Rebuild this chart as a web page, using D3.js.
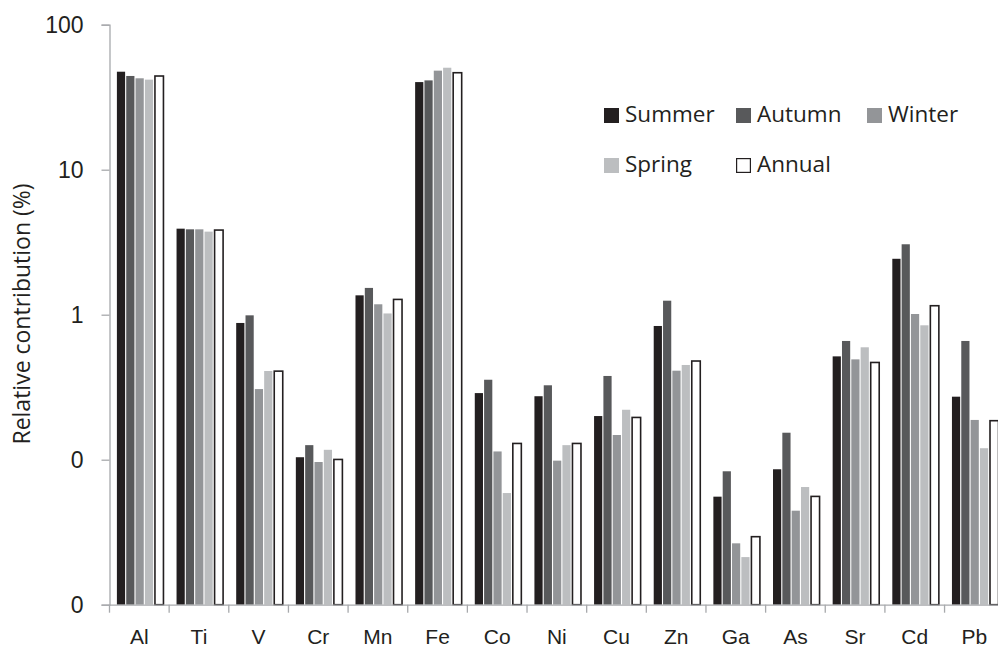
<!DOCTYPE html>
<html>
<head>
<meta charset="utf-8">
<script src="https://cdn.jsdelivr.net/npm/d3@7/dist/d3.min.js"></script>
<style>
  html, body { margin: 0; padding: 0; background: #fff; }
  svg { display: block; font-family: "Open Sans", "Noto Sans", sans-serif; }
</style>
</head>
<body>
<svg id="chart" width="998" height="648"></svg>
<script>
// Elements on the x axis
const elements = ["Al", "Ti", "V", "Cr", "Mn", "Fe", "Co", "Ni", "Cu", "Zn", "Ga", "As", "Sr", "Cd", "Pb"];

// Seasonal series
const seasons = ["Summer", "Autumn", "Winter", "Spring", "Annual"];

// Relative contribution (%) per element, one array per season
const summer = [47.4, 3.92, 0.877, 0.104, 1.36, 40.2, 0.288, 0.274, 0.200, 0.836, 0.0556, 0.0859, 0.516, 2.43, 0.272];
const autumn = [44.3, 3.88, 0.99, 0.126, 1.53, 41.3, 0.356, 0.326, 0.378, 1.249, 0.0832, 0.1535, 0.659, 3.06, 0.659];
const winter = [42.7, 3.88, 0.307, 0.0964, 1.18, 48.2, 0.114, 0.0985, 0.148, 0.411, 0.0265, 0.0445, 0.492, 1.011, 0.188];
const spring = [41.8, 3.74, 0.409, 0.117, 1.02, 50.5, 0.0589, 0.126, 0.221, 0.450, 0.0213, 0.0648, 0.596, 0.845, 0.120];
const annual = [44.8, 3.88, 0.413, 0.1016, 1.29, 47.2, 0.131, 0.131, 0.198, 0.485, 0.0298, 0.0565, 0.474, 1.167, 0.188];

// Y axis ticks and the labels printed beside them
const yTicks = [100, 10, 1, 0.1, 0.01];
const yTickLabels = ["100", "10", "1", "0", "0"];

const seriesValues = [summer, autumn, winter, spring, annual];
const fills = ["#231f20", "#58595b", "#939598", "#bcbec0", "#ffffff"];
const axisColor = "#a7a9ac";
const textColor = "#231f20";

const svg = d3.select("#chart");

const x = d3.scaleBand().domain(elements).range([109.5, 1004.2]).paddingInner(0).paddingOuter(0);
const inner = d3.scaleBand().domain(seasons).range([7.4, 52.9]).paddingInner(0.12).paddingOuter(0);
const y = d3.scaleLog().domain([0.01, 100]).range([604.7, 24.7]);

// Bars
const groups = svg.append("g").selectAll("g")
  .data(elements)
  .join("g")
  .attr("transform", d => `translate(${x(d)},0)`);

groups.selectAll("rect")
  .data((d, i) => seasons.map((s, k) => ({ season: s, k, value: seriesValues[k][i] })))
  .join("rect")
  .attr("x", d => inner(d.season) + (d.k === 4 ? 0.75 : 0))
  .attr("width", d => inner.bandwidth() + (d.k === 4 ? 0.3 : 0))
  .attr("y", d => y(d.value) + (d.k === 4 ? 0.75 : 0))
  .attr("height", d => y(0.01) - y(d.value) - (d.k === 4 ? 0.75 : 0))
  .attr("fill", d => fills[d.k])
  .attr("stroke", d => d.k === 4 ? "#231f20" : "none")
  .attr("stroke-width", 1.6);

// Y axis
const yAxis = svg.append("g")
  .attr("transform", "translate(109.5,0)")
  .call(d3.axisLeft(y).tickValues(yTicks).tickFormat((d, i) => yTickLabels[i]).tickSize(8).tickPadding(18));
yAxis.select(".domain").attr("stroke", axisColor).attr("stroke-width", 1.3);
yAxis.selectAll(".tick line").attr("stroke", axisColor).attr("stroke-width", 1.3);
yAxis.selectAll(".tick text")
  .attr("fill", textColor)
  .style("font-size", "23px")
  .attr("dy", "0.36em");

// X axis: baseline, boundary ticks and element labels
const xAxis = svg.append("g")
  .attr("transform", `translate(0,${y(0.01)})`)
  .call(d3.axisBottom(x).tickSize(0).tickPadding(25));
xAxis.select(".domain").attr("stroke", axisColor).attr("stroke-width", 1.3);
xAxis.selectAll(".tick text")
  .attr("fill", textColor)
  .style("font-size", "21px")
  .attr("dy", "0.68em");

xAxis.selectAll("line.boundary")
  .data(elements.map(d => x(d)).concat([x(elements[elements.length - 1]) + x.step()]))
  .join("line")
  .attr("class", "boundary")
  .attr("x1", d => d).attr("x2", d => d)
  .attr("y1", 0).attr("y2", 8)
  .attr("stroke", axisColor)
  .attr("stroke-width", 1.3);

// Y axis title
svg.append("text")
  .attr("transform", "translate(30,314) rotate(-90)")
  .attr("text-anchor", "middle")
  .attr("fill", textColor)
  .style("font-size", "23px")
  .text("Relative contribution (%)");

// Legend
const legendItems = [
  { name: "Summer", k: 0, x: 604, y: 108 },
  { name: "Autumn", k: 1, x: 736, y: 108 },
  { name: "Winter", k: 2, x: 867, y: 108 },
  { name: "Spring", k: 3, x: 604, y: 158 },
  { name: "Annual", k: 4, x: 736, y: 158 }
];
const legend = svg.append("g").selectAll("g")
  .data(legendItems)
  .join("g")
  .attr("transform", d => `translate(${d.x},${d.y})`);
legend.append("rect")
  .attr("x", d => d.k === 4 ? 0.6 : 0)
  .attr("y", d => d.k === 4 ? 0.6 : 0)
  .attr("width", d => d.k === 4 ? 13.8 : 15)
  .attr("height", d => d.k === 4 ? 13.8 : 15)
  .attr("fill", d => fills[d.k])
  .attr("stroke", d => d.k === 4 ? "#231f20" : "none")
  .attr("stroke-width", 1.2);
legend.append("text")
  .attr("x", 21)
  .attr("y", 14)
  .attr("fill", textColor)
  .style("font-size", "22.5px")
  .text(d => d.name);
</script>
</body>
</html>
